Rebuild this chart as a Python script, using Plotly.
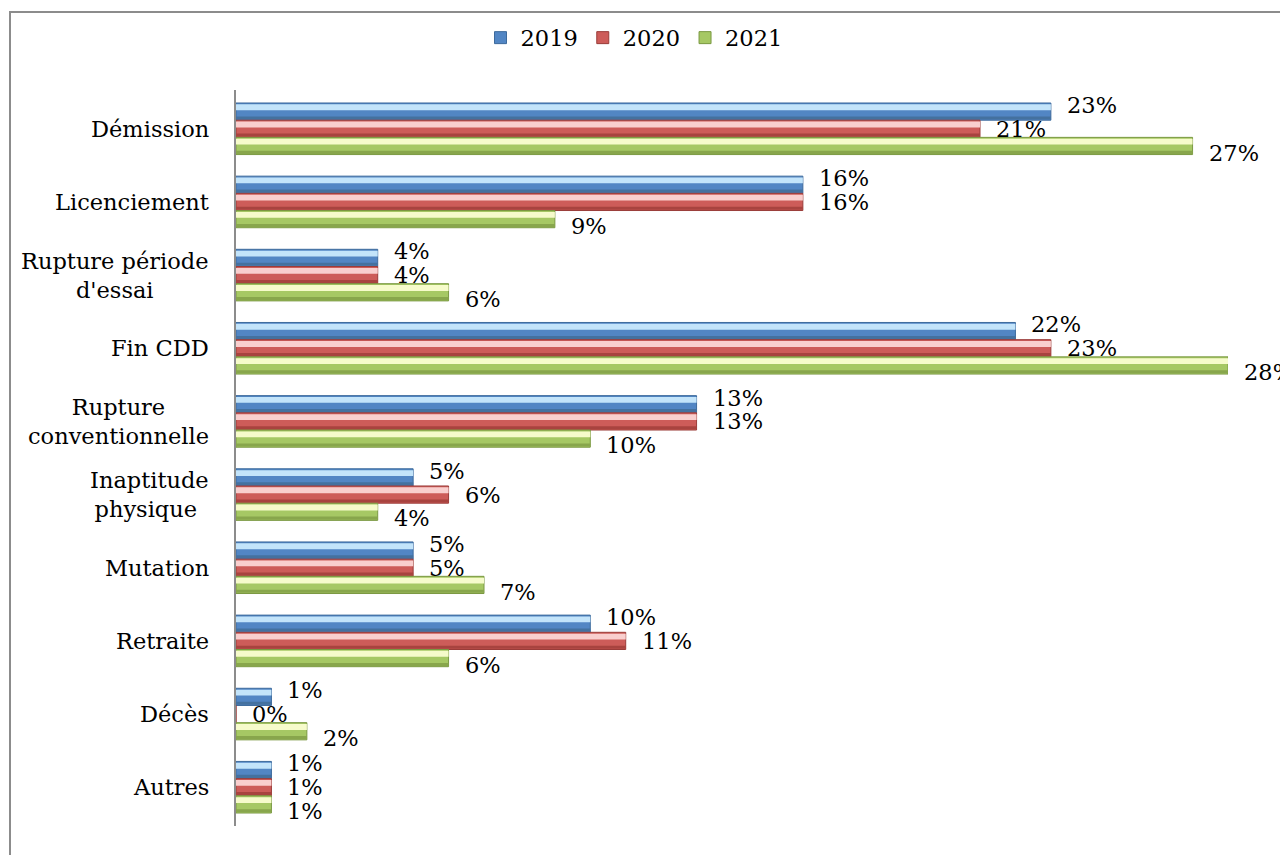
import plotly.graph_objects as go

categories = ["Démission", "Licenciement", "Rupture période<br>d'essai", "Fin CDD",
              "Rupture<br>conventionnelle", "Inaptitude<br>physique\u00a0", "Mutation",
              "Retraite", "Décès", "Autres"]
years = ["2019", "2020", "2021"]
v2019 = [0.23, 0.16, 0.04, 0.22, 0.13, 0.05, 0.05, 0.10, 0.01, 0.01]
v2020 = [0.21, 0.16, 0.04, 0.23, 0.13, 0.06, 0.05, 0.11, 0.00, 0.01]
v2021 = [0.27, 0.09, 0.06, 0.28, 0.10, 0.04, 0.07, 0.06, 0.02, 0.01]
series = [v2019, v2020, v2021]

mid_colors = ["#5286C4", "#CD5C59", "#A6C864"]
top_colors = ["#C3E4FA", "#F9CFCE", "#F6FBCB"]
bot_colors = ["#44719F", "#A8433F", "#88A64C"]
edge_colors = ["#3D6A9C", "#9A3C39", "#7A9842"]

# page body has an 8px margin: build the figure 8px smaller
OFF = 8
W, H = 1288 - OFF, 855 - OFF
ML, MT = 236 - OFF, 90 - OFF
MR = W - (1228 - OFF)
MB = H - (826 - OFF)
FONT = "DejaVu Serif"
FS = 22.5

bw = 0.235
start = -1.5 * bw
label_nudge = [-0.09, 0.0, 0.09]

fig = go.Figure()
annotations = []
for i, (yr, vals) in enumerate(zip(years, series)):
    off = start + i * bw
    fig.add_trace(go.Bar(
        y=categories, x=vals, orientation="h", name=yr,
        offset=off, width=bw,
        marker=dict(color=mid_colors[i], line=dict(color=edge_colors[i], width=1)),
    ))
    # bottom shading band
    fig.add_trace(go.Bar(
        y=categories, x=vals, orientation="h", showlegend=False, hoverinfo="skip",
        offset=off + bw * 0.78, width=bw * 0.18,
        marker=dict(color=bot_colors[i], line=dict(width=0)),
    ))
    # top highlight band
    fig.add_trace(go.Bar(
        y=categories, x=vals, orientation="h", showlegend=False, hoverinfo="skip",
        offset=off + bw * 0.08, width=bw * 0.34,
        marker=dict(color=top_colors[i], line=dict(width=0)),
    ))
    for k, v in enumerate(vals):
        annotations.append(dict(
            x=v, xref="x", y=k + off + bw / 2 + label_nudge[i], yref="y",
            text=f"{v:.0%}", showarrow=False, xanchor="left", yanchor="middle",
            xshift=14, font=dict(family=FONT, size=FS, color="black"),
        ))

pw = W - ML - MR
ph = H - MT - MB

for c in categories:
    annotations.append(dict(
        x=0, xref="paper", y=c, yref="y", text=c, showarrow=False,
        xanchor="right", yanchor="middle", xshift=-25, align="center",
        font=dict(family=FONT, size=FS, color="black"),
    ))

fig.update_layout(
    width=W, height=H,
    margin=dict(l=ML, r=MR, t=MT, b=MB),
    barmode="overlay",
    plot_bgcolor="white", paper_bgcolor="white",
    font=dict(family=FONT, size=FS, color="black"),
    xaxis=dict(range=[0, 0.28], visible=False, showgrid=False, zeroline=False),
    yaxis=dict(autorange="reversed", showticklabels=False, showgrid=False,
               showline=True, linecolor="#8C8C8C", linewidth=2, ticks="", zeroline=False),
    legend=dict(orientation="h", x=(634 - OFF) / W, xref="container", xanchor="center",
                y=(H - (38 - OFF)) / H, yref="container", yanchor="middle",
                font=dict(family=FONT, size=FS), itemwidth=30, traceorder="normal"),
    annotations=annotations,
    shapes=[dict(type="rect", xref="paper", yref="paper",
                 x0=(10 - OFF - ML) / pw, x1=(W + 20 - ML) / pw,
                 y0=(H - MB - (H + 20)) / ph, y1=(H - MB - (12 - OFF)) / ph,
                 line=dict(color="#8C8C8C", width=2), fillcolor="rgba(0,0,0,0)",
                 layer="below")],
    showlegend=True,
)

fig.write_html("out.html")
